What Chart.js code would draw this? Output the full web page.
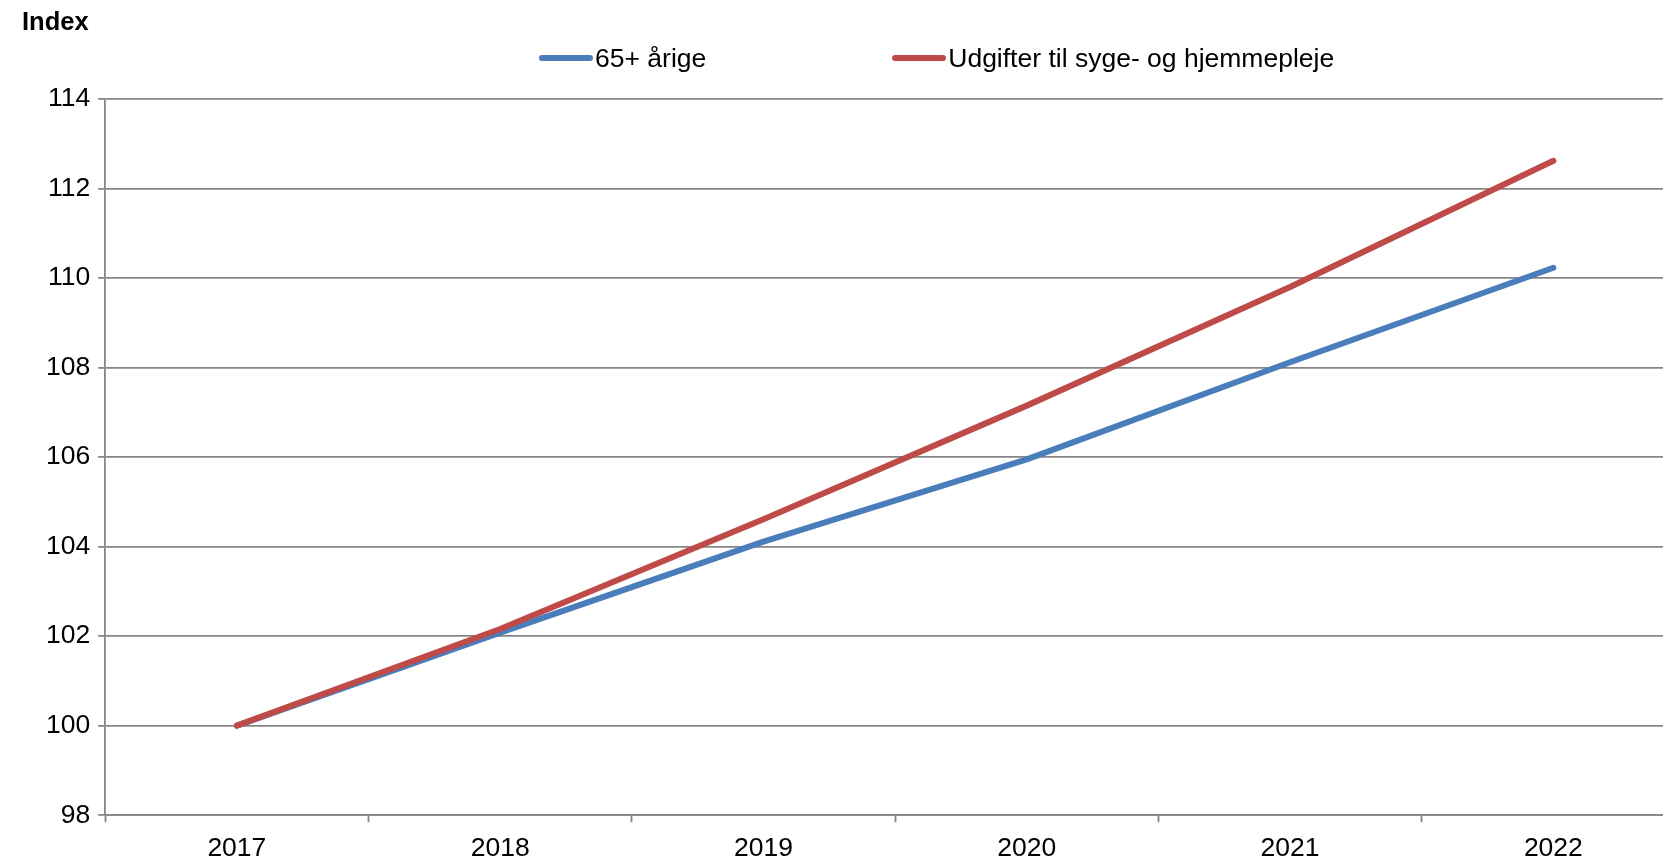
<!DOCTYPE html>
<html lang="da">
<head>
    <meta charset="UTF-8">
    <title>Index - 65+ årige og udgifter til syge- og hjemmepleje</title>
    <script src="https://cdn.jsdelivr.net/npm/chart.js"></script>
    <style>
        html, body {
            margin: 0;
            padding: 0;
            width: 1663px;
            height: 861px;
            overflow: hidden;
            background: #fff;
            font-family: "Liberation Sans", Arial, sans-serif;
        }
        .wrap {
            position: relative;
            width: 1663px;
            height: 861px;
            overflow: hidden;
        }
        .y-title {
            position: absolute;
            left: 22px;
            top: 8px;
            font-size: 25.5px;
            line-height: 26px;
            font-weight: bold;
            color: #000;
        }
        .legend {
            position: absolute;
            left: 539px;
            top: 44px;
            display: flex;
            gap: 186px;
            font-size: 26.5px;
            line-height: 28px;
            color: #000;
        }
        .legend-item {
            display: flex;
            align-items: center;
        }
        .legend-item .swatch {
            width: 54px;
            height: 6px;
            border-radius: 3px;
            margin-right: 2px;
        }
        canvas {
            position: absolute;
            left: 0;
            top: 0;
        }
    </style>
</head>
<body>
    <div class="wrap">
        <canvas id="indexChart" width="1700" height="880"></canvas>
        <div class="y-title">Index</div>
        <div class="legend" id="legend"></div>
    </div>

    <script>
        const years = ['2017', '2018', '2019', '2020', '2021', '2022'];
        const age65 = [100, 102.08, 104.11, 105.95, 108.12, 110.23];
        const careExp = [100, 102.16, 104.61, 107.15, 109.8, 112.62];
        const seriesNames = ['65+ årige', 'Udgifter til syge- og hjemmepleje'];
        const seriesColors = ['#4a7ebb', '#be4b48'];
        const yMin = 98, yMax = 114, yStep = 2;

        const gridColor = '#868686';
        const tickFont = { family: '"Liberation Sans", Arial, sans-serif', size: 26.5 };

        // legend as plain html so the short gap between line and text matches
        const legendEl = document.getElementById('legend');
        seriesNames.forEach((name, i) => {
            const item = document.createElement('div');
            item.className = 'legend-item';
            const sw = document.createElement('span');
            sw.className = 'swatch';
            sw.style.background = seriesColors[i];
            const txt = document.createElement('span');
            txt.textContent = name;
            item.appendChild(sw);
            item.appendChild(txt);
            legendEl.appendChild(item);
        });

        const ctx = document.getElementById('indexChart').getContext('2d');
        new Chart(ctx, {
            type: 'line',
            data: {
                labels: years,
                datasets: [
                    {
                        label: seriesNames[0],
                        data: age65,
                        borderColor: seriesColors[0],
                        backgroundColor: seriesColors[0],
                        borderWidth: 6,
                        pointRadius: 0,
                        tension: 0,
                        borderCapStyle: 'round',
                        borderJoinStyle: 'round',
                        order: 1
                    },
                    {
                        label: seriesNames[1],
                        data: careExp,
                        borderColor: seriesColors[1],
                        backgroundColor: seriesColors[1],
                        borderWidth: 6,
                        pointRadius: 0,
                        tension: 0,
                        borderCapStyle: 'round',
                        borderJoinStyle: 'round',
                        order: 0
                    }
                ]
            },
            options: {
                responsive: false,
                animation: false,
                layout: {
                    padding: { left: 38, top: 99, right: 15, bottom: 4 }
                },
                plugins: {
                    legend: { display: false },
                    tooltip: { enabled: false }
                },
                scales: {
                    x: {
                        offset: true,
                        grid: {
                            offset: true,
                            drawOnChartArea: false,
                            drawTicks: true,
                            tickLength: 7,
                            tickColor: gridColor,
                            tickWidth: 1.8
                        },
                        border: { display: true, color: gridColor, width: 1.8 },
                        ticks: {
                            color: '#000',
                            font: tickFont,
                            padding: 11,
                            maxRotation: 0
                        }
                    },
                    y: {
                        min: yMin,
                        max: yMax,
                        grid: {
                            color: gridColor,
                            lineWidth: 1.8,
                            drawTicks: true,
                            tickLength: 7,
                            tickColor: gridColor
                        },
                        border: { display: true, color: gridColor, width: 1.8 },
                        ticks: {
                            stepSize: yStep,
                            color: '#000',
                            font: tickFont,
                            padding: 8
                        }
                    }
                }
            }
        });
    </script>
</body>
</html>
